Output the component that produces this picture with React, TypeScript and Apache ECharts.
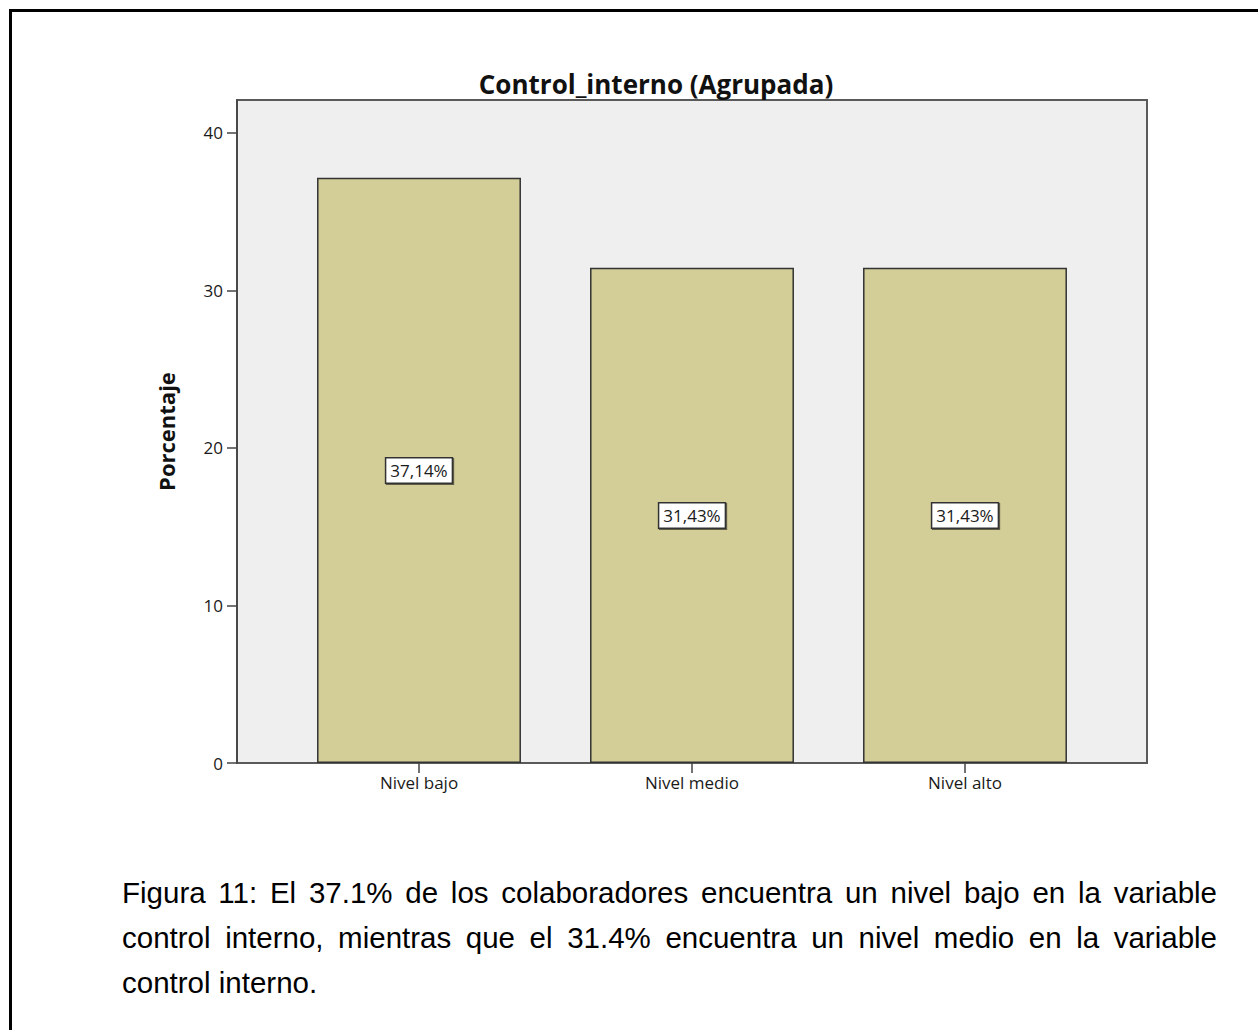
import React, { useEffect, useRef } from "react";
import * as echarts from "echarts";

// Frequencies of the grouped "Control_interno" variable
const categories = ["Nivel bajo", "Nivel medio", "Nivel alto"];
const percentages = [37.14, 31.43, 31.43];
const yTickValues = [0, 10, 20, 30, 40];
const yMax = 42.08;

const chartTitle = "Control_interno (Agrupada)";
const yAxisTitle = "Porcentaje";
const caption =
  "Figura 11: El 37.1% de los colaboradores encuentra un nivel bajo en la variable control interno, mientras que el 31.4% encuentra un nivel medio en la variable control interno.";

const UI_FONT = '"Open Sans", "DejaVu Sans", sans-serif';

function formatPct(v: number): string {
  return v.toFixed(2).replace(".", ",") + "%";
}

export default function App() {
  const ref = useRef<HTMLDivElement>(null);

  useEffect(() => {
    if (!ref.current) return;
    const chart = echarts.init(ref.current, undefined, { renderer: "svg" });
    const chartH = 850;
    const plot = { left: 237, right: 1147, top: 100, bottom: 763 };
    const sidePad = 45.5;

    chart.setOption({
      animation: false,
      title: {
        text: chartTitle,
        left: 651,
        top: 66,
        textAlign: "center",
        textStyle: {
          fontFamily: UI_FONT,
          fontWeight: "bold",
          fontSize: 26,
          color: "#111",
        },
      },
      grid: [
        {
          left: plot.left,
          right: 1258 - plot.right,
          top: plot.top,
          bottom: chartH - plot.bottom,
          show: true,
          backgroundColor: "#efefef",
          borderColor: "#5a5a5a",
          borderWidth: 2,
        },
        {
          left: plot.left + sidePad,
          right: 1258 - plot.right + sidePad,
          top: plot.top,
          bottom: chartH - plot.bottom,
        },
      ],
      xAxis: [
        { gridIndex: 0, type: "value", min: 0, max: 1, show: false },
        {
          gridIndex: 1,
          type: "category",
          data: categories,
          axisLine: { show: false },
          axisTick: {
            show: true,
            alignWithLabel: true,
            length: 10,
            lineStyle: { color: "#444", width: 1.5 },
          },
          axisLabel: {
            margin: 11,
            fontSize: 17,
            fontFamily: UI_FONT,
            color: "#1a1a1a",
          },
        },
      ],
      yAxis: [
        {
          gridIndex: 0,
          type: "value",
          min: 0,
          max: yMax,
          interval: 10,
          splitLine: { show: false },
          axisLine: { show: true, lineStyle: { color: "#444", width: 1.5 } },
          axisTick: {
            show: true,
            length: 10,
            customValues: yTickValues,
            lineStyle: { color: "#444", width: 1.5 },
          },
          axisLabel: {
            customValues: yTickValues,
            margin: 14,
            fontSize: 17,
            fontFamily: UI_FONT,
            color: "#1a1a1a",
          },
          name: yAxisTitle,
          nameLocation: "middle",
          nameGap: 60,
          nameTextStyle: {
            fontFamily: UI_FONT,
            fontWeight: "bold",
            fontSize: 22,
            color: "#111",
          },
        },
        { gridIndex: 1, type: "value", min: 0, max: yMax, show: false },
      ],
      series: [
        {
          type: "bar",
          xAxisIndex: 1,
          yAxisIndex: 1,
          data: percentages,
          barWidth: "74.7%",
          itemStyle: {
            color: "#d3ce98",
            borderColor: "#333",
            borderWidth: 1.5,
          },
          label: {
            show: true,
            position: "inside",
            formatter: (p: any) => formatPct(p.value),
            backgroundColor: "#fff",
            borderColor: "#333",
            borderWidth: 1.5,
            padding: [4, 4, 3, 4],
            shadowColor: "rgba(0,0,0,0.55)",
            shadowOffsetX: 1,
            shadowOffsetY: 1,
            shadowBlur: 1,
            fontSize: 17,
            fontFamily: UI_FONT,
            color: "#1a1a1a",
          },
        },
      ],
    });

    return () => chart.dispose();
  }, []);

  return (
    <div
      style={{
        position: "absolute",
        left: 0,
        top: 0,
        width: 1258,
        height: 1030,
        overflow: "hidden",
        background: "#fff",
      }}
    >
      <div
        style={{
          position: "absolute",
          left: 9,
          top: 9,
          width: 1400,
          height: 1200,
          borderLeft: "3px solid #000",
          borderTop: "3px solid #000",
        }}
      />
      <div
        ref={ref}
        style={{ position: "absolute", left: 0, top: 0, width: 1258, height: 850 }}
      />
      <div
        style={{
          position: "absolute",
          left: 122,
          top: 870,
          width: 1095,
          fontFamily: '"Liberation Sans", Arial, sans-serif',
          fontSize: 29.5,
          lineHeight: "45px",
          textAlign: "justify",
          color: "#000",
        }}
      >
        {caption}
      </div>
    </div>
  );
}
